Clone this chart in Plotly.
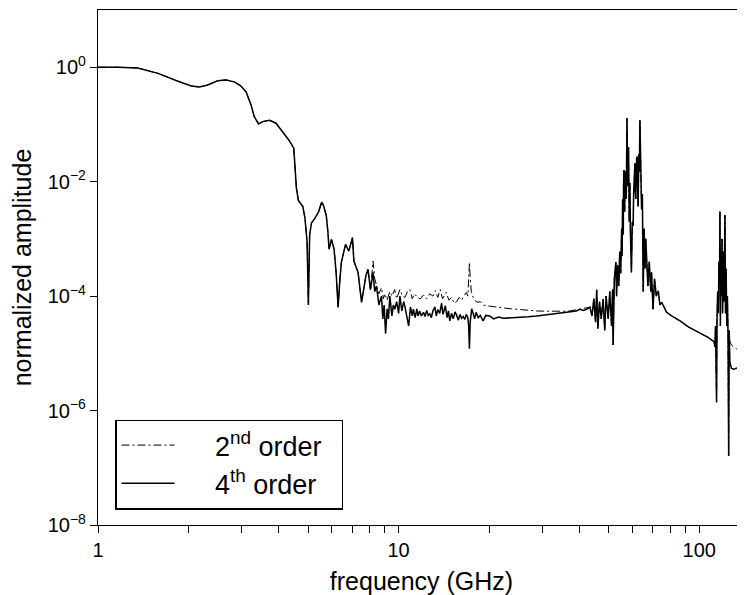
import math
import plotly.graph_objects as go

# ---------------- data ----------------
# common low-frequency part (both schemes coincide)
freq_low = [1.0, 1.163, 1.356, 1.584, 1.845, 2.045, 2.175, 2.317, 2.50, 2.667, 2.84, 2.99,
            3.11, 3.23, 3.31, 3.42, 3.53, 3.72, 3.91, 4.12, 4.33, 4.48, 4.525, 4.57, 4.64,
            4.80, 4.88, 4.96, 5.01, 5.06, 5.13, 5.27, 5.42, 5.55, 5.63, 5.75, 5.82, 5.87,
            5.98, 6.10, 6.20, 6.29, 6.38, 6.45, 6.66, 6.83, 7.02, 7.10, 7.33, 7.53, 7.78,
            7.91, 8.06]
amp_low = [1.0, 1.0, 0.97, 0.78, 0.57, 0.47, 0.45, 0.49, 0.58, 0.60, 0.555, 0.47,
           0.37, 0.218, 0.137, 0.102, 0.112, 0.118, 0.105, 0.073, 0.052, 0.0385, 0.0198, 0.0078, 0.0047,
           0.0037, 0.0023, 9e-4, 7.0e-5, 1.2e-3, 0.0019, 0.0023, 0.003, 0.0044, 0.0038, 0.0025, 0.0013, 6.6e-4,
           9.8e-4, 6.6e-4, 2.5e-4, 6.4e-5, 2.0e-4, 3.9e-4, 8.0e-4, 6.1e-4, 1.05e-3, 4.1e-4, 2.6e-4, 7.8e-5, 2.25e-4,
           2.95e-4, 1.3e-4]

# 2nd order, noisy mid band
freq_2nd_mid = [8.22, 8.33, 8.44, 8.6, 8.77, 8.9, 9.0, 9.15, 9.35, 9.5, 9.7, 9.85, 10.1, 10.3,
                10.5, 10.7, 10.9, 11.1, 11.3, 11.55, 11.8, 12.1, 12.4, 12.7, 13.0, 13.25, 13.5,
                13.75, 14.0, 14.4, 14.7, 15.0, 15.3, 15.6, 15.9, 16.2, 16.5, 16.8, 17.0, 17.1,
                17.2, 17.3, 17.45, 17.7, 18.2, 18.7, 19.1, 19.6, 20.3, 21.0, 22.3, 23.7, 25.3,
                27.0, 28.8, 30.7, 32.7, 35.0, 37.1, 39.0, 40.1, 41.2, 42.2]
amp_2nd_mid = [4.1e-4, 2.0e-4, 1.6e-4, 1.1e-4, 1.4e-4, 9e-5, 1.1e-4, 8.5e-5, 1.2e-4, 1.0e-4,
               1.3e-4, 9e-5, 1.3e-4, 1.0e-4, 9.5e-5, 1.2e-4, 1.3e-4, 9e-5, 1.1e-4, 9.5e-5, 8.9e-5,
               1.05e-4, 9.0e-5, 1.1e-4, 1.0e-4, 1.25e-4, 9.5e-5, 1.3e-4, 9.0e-5, 1.16e-4, 8.5e-5,
               9.5e-5, 7.5e-5, 8.0e-5, 9.5e-5, 8.5e-5, 1.0e-4, 1.16e-4, 1.0e-4, 2.0e-4, 3.9e-4,
               2.2e-4, 1.2e-4, 9.5e-5, 7.8e-5, 8.0e-5, 7.0e-5, 6.8e-5, 6.6e-5, 6.4e-5, 6.2e-5,
               6.0e-5, 5.8e-5, 5.6e-5, 5.5e-5, 5.45e-5, 5.4e-5, 5.45e-5, 5.5e-5, 5.8e-5, 6.0e-5,
               6.2e-5, 6.4e-5]

# 4th order, noisy mid band
freq_4th_mid = [8.22, 8.33, 8.44, 8.6, 8.77, 8.86, 8.95, 9.05, 9.16, 9.25, 9.35, 9.5, 9.6, 9.71,
                9.85, 10.0, 10.1, 10.25, 10.4, 10.5, 10.65, 10.8, 10.95, 11.1, 11.2, 11.35, 11.5,
                11.6, 11.75, 11.9, 12.1, 12.25, 12.4, 12.55, 12.7, 12.85, 13.0, 13.2, 13.35, 13.5,
                13.7, 13.9, 14.05, 14.3, 14.5, 14.65, 14.8, 15.0, 15.2, 15.4, 15.6, 15.8, 16.0,
                16.2, 16.4, 16.6, 16.8, 17.0, 17.1, 17.2, 17.3, 17.5, 17.7, 17.9, 18.1, 18.4, 18.7,
                19.1, 19.5, 20.1, 20.7, 21.5, 22.3, 23.5, 25.3, 27.0, 28.8, 30.7, 32.7, 35.0, 37.1,
                39.0, 40.1, 41.2, 42.2]
amp_4th_mid = [2.6e-4, 1.2e-4, 1.5e-4, 7e-5, 1.0e-4, 4e-5, 7e-5, 2.2e-5, 6e-5, 4e-5, 1.0e-4,
               4.5e-5, 7e-5, 5.9e-5, 8e-5, 5e-5, 1.0e-4, 5.5e-5, 8e-5, 6.5e-5, 4.5e-5, 3.0e-5,
               6.5e-5, 4.5e-5, 5.9e-5, 4.2e-5, 6e-5, 4.5e-5, 5.5e-5, 4.5e-5, 5.2e-5, 4.4e-5,
               5.6e-5, 4.6e-5, 4.9e-5, 4.2e-5, 5.5e-5, 6.5e-5, 4.5e-5, 5.8e-5, 5.0e-5, 7.5e-5,
               4.8e-5, 6.8e-5, 4.2e-5, 5.5e-5, 3.7e-5, 5.0e-5, 4.0e-5, 5.3e-5, 4.6e-5, 3.8e-5,
               4.8e-5, 4.1e-5, 4.4e-5, 3.9e-5, 4.8e-5, 4.2e-5, 3.0e-5, 1.2e-5, 3.5e-5, 6.0e-5,
               5.0e-5, 4.0e-5, 5.2e-5, 4.2e-5, 4.6e-5, 3.7e-5, 4.6e-5, 4.5e-5, 4.0e-5, 4.3e-5,
               4.1e-5, 4.15e-5, 4.2e-5, 4.35e-5, 4.5e-5, 4.7e-5, 4.9e-5, 5.05e-5, 5.2e-5, 5.5e-5,
               5.9e-5, 5.6e-5, 5.9e-5]

# resonance region (both schemes overlap)
freq_peak = [43.3, 44.0, 44.6, 45.2, 45.6, 46.0, 46.6, 47.2, 47.9, 48.5, 49.0, 49.8, 50.4, 51.1,
             51.5, 51.7, 52.2, 52.8, 53.1, 53.5, 54.0, 54.4, 54.8, 55.2, 55.4, 55.6, 55.9, 56.0,
             56.2, 56.5, 56.7, 56.9, 57.2, 57.35, 57.5, 57.8, 58.0, 58.2, 58.5, 58.8, 59.0, 59.2,
             59.5, 59.9, 60.3, 60.5, 60.7, 61.1, 61.3, 61.5, 61.9, 62.2, 62.4, 62.6, 63.0, 63.2,
             63.5, 63.9, 64.1, 64.3, 64.7, 65.1, 65.6, 66.0, 66.4, 66.8, 67.5, 68.2, 69.0, 69.4,
             70.2, 71.0, 72.0, 73.1, 74.0, 75.0, 77.9, 81.0, 86.3, 92.0, 100.5, 107.0,
             112.0, 112.8, 113.3, 113.8, 114.2, 114.6, 115.2, 115.8, 116.3, 116.8, 117.2, 117.6,
             118.1, 118.6, 119.1, 119.6, 120.2, 120.8, 121.3, 121.8, 122.3, 122.9, 123.5, 124.1,
             124.7, 125.3, 125.8]
amp_peak = [6.4e-5, 4.5e-5, 9e-5, 3.5e-5, 1.3e-4, 2.7e-5, 8e-5, 4e-5, 8.9e-5, 2.5e-5, 1.0e-4,
            4.0e-5, 1.2e-4, 3e-5, 1.3e-4, 1.4e-5, 2.0e-4, 3.9e-4, 1.0e-4, 3.5e-4, 1.5e-4, 6e-4,
            2.5e-4, 1.5e-3, 5e-4, 4.9e-3, 1.2e-3, 8e-3, 1.6e-2, 3e-3, 1.5e-2, 1.2e-2, 5e-3, 3e-2,
            0.128, 8.3e-3, 3e-2, 4e-2, 2e-3, 9.5e-3, 1.5e-3, 8e-4, 2.6e-4, 2e-3, 1.7e-3, 6e-3,
            8e-3, 2.1e-2, 7e-3, 5e-3, 2.5e-2, 2.75e-2, 8e-3, 3.7e-3, 3e-2, 1.5e-2, 0.12, 1.5e-2,
            2.5e-2, 3.3e-3, 6e-3, 1.2e-4, 1.5e-3, 3e-4, 1e-3, 5.7e-4, 1.5e-4, 4e-4, 1.2e-4, 2.6e-4,
            5.9e-5, 2e-4, 1e-4, 1.24e-4, 7e-5, 7.8e-5, 5.2e-5, 4.5e-5, 3.7e-5, 2.9e-5, 2.3e-5,
            1.9e-5, 1.6e-5, 1.3e-5, 3.0e-5, 8e-6, 1.4e-6, 4e-5, 1.2e-4, 5e-5, 4e-4, 1.5e-4, 3.0e-3,
            3e-5, 6e-4, 1e-4, 1.0e-3, 5e-5, 6e-4, 8e-5, 8e-4, 2.6e-3, 5e-5, 3e-4, 3e-5, 1e-4, 2e-5,
            1.6e-7, 2.5e-5]

# high-frequency tails
freq_tail = [126.5, 128.0, 130.0, 133.0, 136.0, 139.0, 142.0]
amp_2nd_tail = [1.6e-5, 1.4e-5, 1.3e-5, 1.2e-5, 1.15e-5, 1.1e-5, 1.05e-5]
amp_4th_tail = [7e-6, 5.5e-6, 5.3e-6, 5.5e-6, 5.6e-6, 5.5e-6, 5.5e-6]

x_tick_vals = [1, 2, 3, 4, 5, 6, 7, 8, 9, 10, 20, 30, 40, 50, 60, 70, 80, 90, 100]
x_tick_text = ["1", "", "", "", "", "", "", "", "", "10", "", "", "", "", "", "", "", "", "100"]
y_tick_vals = [1e-8, 1e-6, 1e-4, 1e-2, 1]
y_tick_text = ["10<sup>\u22128</sup>", "10<sup>\u22126</sup>", "10<sup>\u22124</sup>",
               "10<sup>\u22122</sup>", "10<sup>0</sup>"]

# ---------------- assemble series ----------------
freq_2nd = freq_low + freq_2nd_mid + freq_peak + freq_tail
amp_2nd = amp_low + amp_2nd_mid + amp_peak + amp_2nd_tail
freq_4th = freq_low + freq_4th_mid + freq_peak + freq_tail
amp_4th = amp_low + amp_4th_mid + amp_peak + amp_4th_tail

FONT = "Liberation Sans, Arial, Helvetica, sans-serif"
PAD = "\u00a0\u00a0\u00a0\u00a0\u2009"
TRAIL = "\u00a0\u00a0"

fig = go.Figure()
fig.add_trace(go.Scatter(x=freq_2nd, y=amp_2nd, mode="lines",
                         name=PAD + "2<sup>nd</sup> order" + TRAIL,
                         line=dict(color="black", width=1.0, dash="8px,3px,2px,3px")))
fig.add_trace(go.Scatter(x=freq_4th, y=amp_4th, mode="lines",
                         name=PAD + "4<sup>th</sup> order" + TRAIL,
                         line=dict(color="black", width=1.5)))

# the page body offsets the figure by 8px; margins/size compensate for it
fig.update_layout(
    width=737, height=587,
    margin=dict(l=90, r=0, t=1.5, b=70),
    plot_bgcolor="white", paper_bgcolor="white",
    font=dict(family=FONT, size=20, color="black"),
    showlegend=True,
    legend=dict(x=0.0263, y=0.1174, xanchor="left", yanchor="middle",
                bordercolor="black", borderwidth=1.5, bgcolor="white",
                font=dict(size=27, family=FONT), itemwidth=53),
)
fig.update_xaxes(type="log", range=[0, math.log10(142)],
                 tickmode="array", tickvals=x_tick_vals, ticktext=x_tick_text,
                 ticks="outside", ticklen=7, tickwidth=1, tickcolor="black",
                 showline=True, linecolor="black", linewidth=1.3, mirror=True,
                 showgrid=False, zeroline=False,
                 title=dict(text="frequency (GHz)", font=dict(size=25), standoff=14))
fig.update_yaxes(type="log", range=[-8, 1],
                 tickmode="array", tickvals=y_tick_vals, ticktext=y_tick_text,
                 ticks="outside", ticklen=7, tickwidth=1, tickcolor="black",
                 showline=True, linecolor="black", linewidth=1.3,
                 showgrid=False, zeroline=False,
                 title=dict(text="normalized amplitude", font=dict(size=25), standoff=13))

fig.write_html("out.html")
